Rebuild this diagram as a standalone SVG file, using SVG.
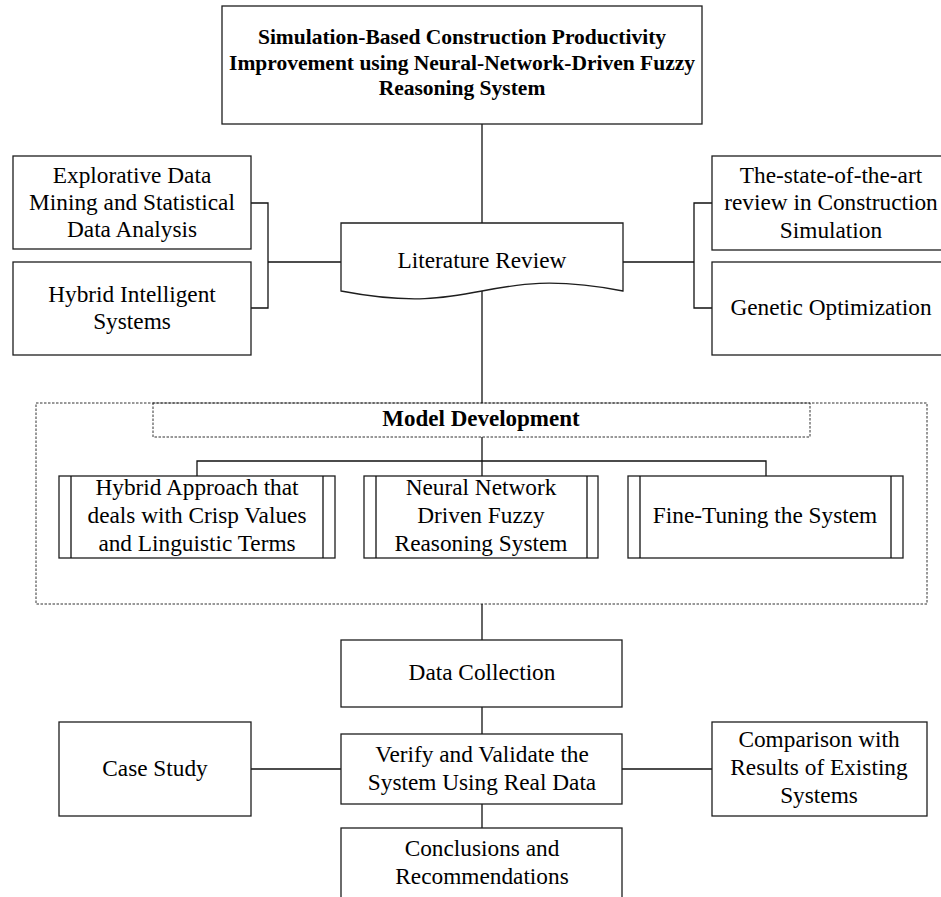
<svg xmlns="http://www.w3.org/2000/svg" width="941" height="897" viewBox="0 0 941 897">
  <style>
    .box { fill: #fff; stroke: #1e1e1e; stroke-width: 1.3; }
    .dash { fill: none; stroke: #333; stroke-width: 1; stroke-dasharray: 2.5 1.5; }
    .line { fill: none; stroke: #111; stroke-width: 1.3; }
    text { font-family: "Liberation Serif", "Times New Roman", serif; font-size: 23.3px; fill: #000; text-anchor: middle; }
    .bold { font-weight: bold; }
  </style>

  <rect width="941" height="897" fill="#fff"/>

  <!-- Model development container -->
  <g id="model-development">
    <rect class="dash" x="36" y="403" width="891" height="201"/>
    <rect class="dash" x="153" y="403" width="657" height="34"/>
    <text class="bold" x="481" y="426" style="font-size:23px">Model Development</text>
  </g>

  <!-- Connectors -->
  <g id="connectors">
    <path class="line" d="M482,124 V223"/>
    <path class="line" d="M482,291 V403"/>
    <path class="line" d="M482,437 V476"/>
    <!-- left bracket -->
    <path class="line" d="M251,203 H268 V308 H251"/>
    <path class="line" d="M268,262 H341"/>
    <!-- right bracket -->
    <path class="line" d="M623,262 H694"/>
    <path class="line" d="M712,203 H694 V308 H712"/>
    <!-- sub-process bracket -->
    <path class="line" d="M197,476 V461 H766 V476"/>
    <!-- lower chain -->
    <path class="line" d="M482,604 V640"/>
    <path class="line" d="M482,707 V734"/>
    <path class="line" d="M482,804 V828"/>
    <path class="line" d="M251,769 H341"/>
    <path class="line" d="M622,769 H712"/>
  </g>

  <!-- Title -->
  <g id="title">
    <rect class="box" x="222" y="6" width="480" height="118"/>
    <text class="bold" x="462" y="44" style="font-size:21.5px">Simulation-Based Construction Productivity</text>
    <text class="bold" x="462" y="70" style="font-size:21.5px">Improvement using Neural-Network-Driven Fuzzy</text>
    <text class="bold" x="462" y="95" style="font-size:21.5px">Reasoning System</text>
  </g>

  <g id="explorative-data-mining">
    <rect class="box" x="13" y="156" width="238" height="93"/>
    <text x="132" y="183">Explorative Data</text>
    <text x="132" y="210">Mining and Statistical</text>
    <text x="132" y="237">Data Analysis</text>
  </g>

  <g id="hybrid-intelligent-systems">
    <rect class="box" x="13" y="262" width="238" height="93"/>
    <text x="132" y="302">Hybrid Intelligent</text>
    <text x="132" y="329">Systems</text>
  </g>

  <!-- Document shape -->
  <g id="literature-review">
    <path class="box" d="M341,223 H623 V291 C482,264 482,318 341,291 Z"/>
    <text x="482" y="268">Literature Review</text>
  </g>

  <g id="state-of-the-art-review">
    <rect class="box" x="712" y="156" width="240" height="94"/>
    <text x="831" y="183">The-state-of-the-art</text>
    <text x="831" y="210">review in Construction</text>
    <text x="831" y="238">Simulation</text>
  </g>

  <g id="genetic-optimization">
    <rect class="box" x="712" y="262" width="240" height="93"/>
    <text x="831" y="315">Genetic Optimization</text>
  </g>

  <!-- Predefined-process boxes -->
  <g id="hybrid-approach">
    <rect class="box" x="59" y="476" width="276" height="82"/>
    <path class="line" d="M71,476 V558 M323,476 V558"/>
    <text x="197" y="495">Hybrid Approach that</text>
    <text x="197" y="523">deals with Crisp Values</text>
    <text x="197" y="551">and Linguistic Terms</text>
  </g>

  <g id="neural-fuzzy-system">
    <rect class="box" x="364" y="476" width="234" height="82"/>
    <path class="line" d="M376,476 V558 M587,476 V558"/>
    <text x="481" y="495">Neural Network</text>
    <text x="481" y="523">Driven Fuzzy</text>
    <text x="481" y="551">Reasoning System</text>
  </g>

  <g id="fine-tuning">
    <rect class="box" x="628" y="476" width="275" height="82"/>
    <path class="line" d="M640,476 V558 M891,476 V558"/>
    <text x="765" y="523">Fine-Tuning the System</text>
  </g>

  <g id="data-collection">
    <rect class="box" x="341" y="640" width="281" height="67"/>
    <text x="482" y="680">Data Collection</text>
  </g>

  <g id="case-study">
    <rect class="box" x="59" y="722" width="192" height="94"/>
    <text x="155" y="776">Case Study</text>
  </g>

  <g id="verify-validate">
    <rect class="box" x="341" y="734" width="281" height="70"/>
    <text x="482" y="762">Verify and Validate the</text>
    <text x="482" y="790">System Using Real Data</text>
  </g>

  <g id="comparison">
    <rect class="box" x="712" y="722" width="215" height="94"/>
    <text x="819" y="747">Comparison with</text>
    <text x="819" y="775">Results of Existing</text>
    <text x="819" y="803">Systems</text>
  </g>

  <g id="conclusions">
    <rect class="box" x="341" y="828" width="281" height="80"/>
    <text x="482" y="856">Conclusions and</text>
    <text x="482" y="884">Recommendations</text>
  </g>
</svg>
